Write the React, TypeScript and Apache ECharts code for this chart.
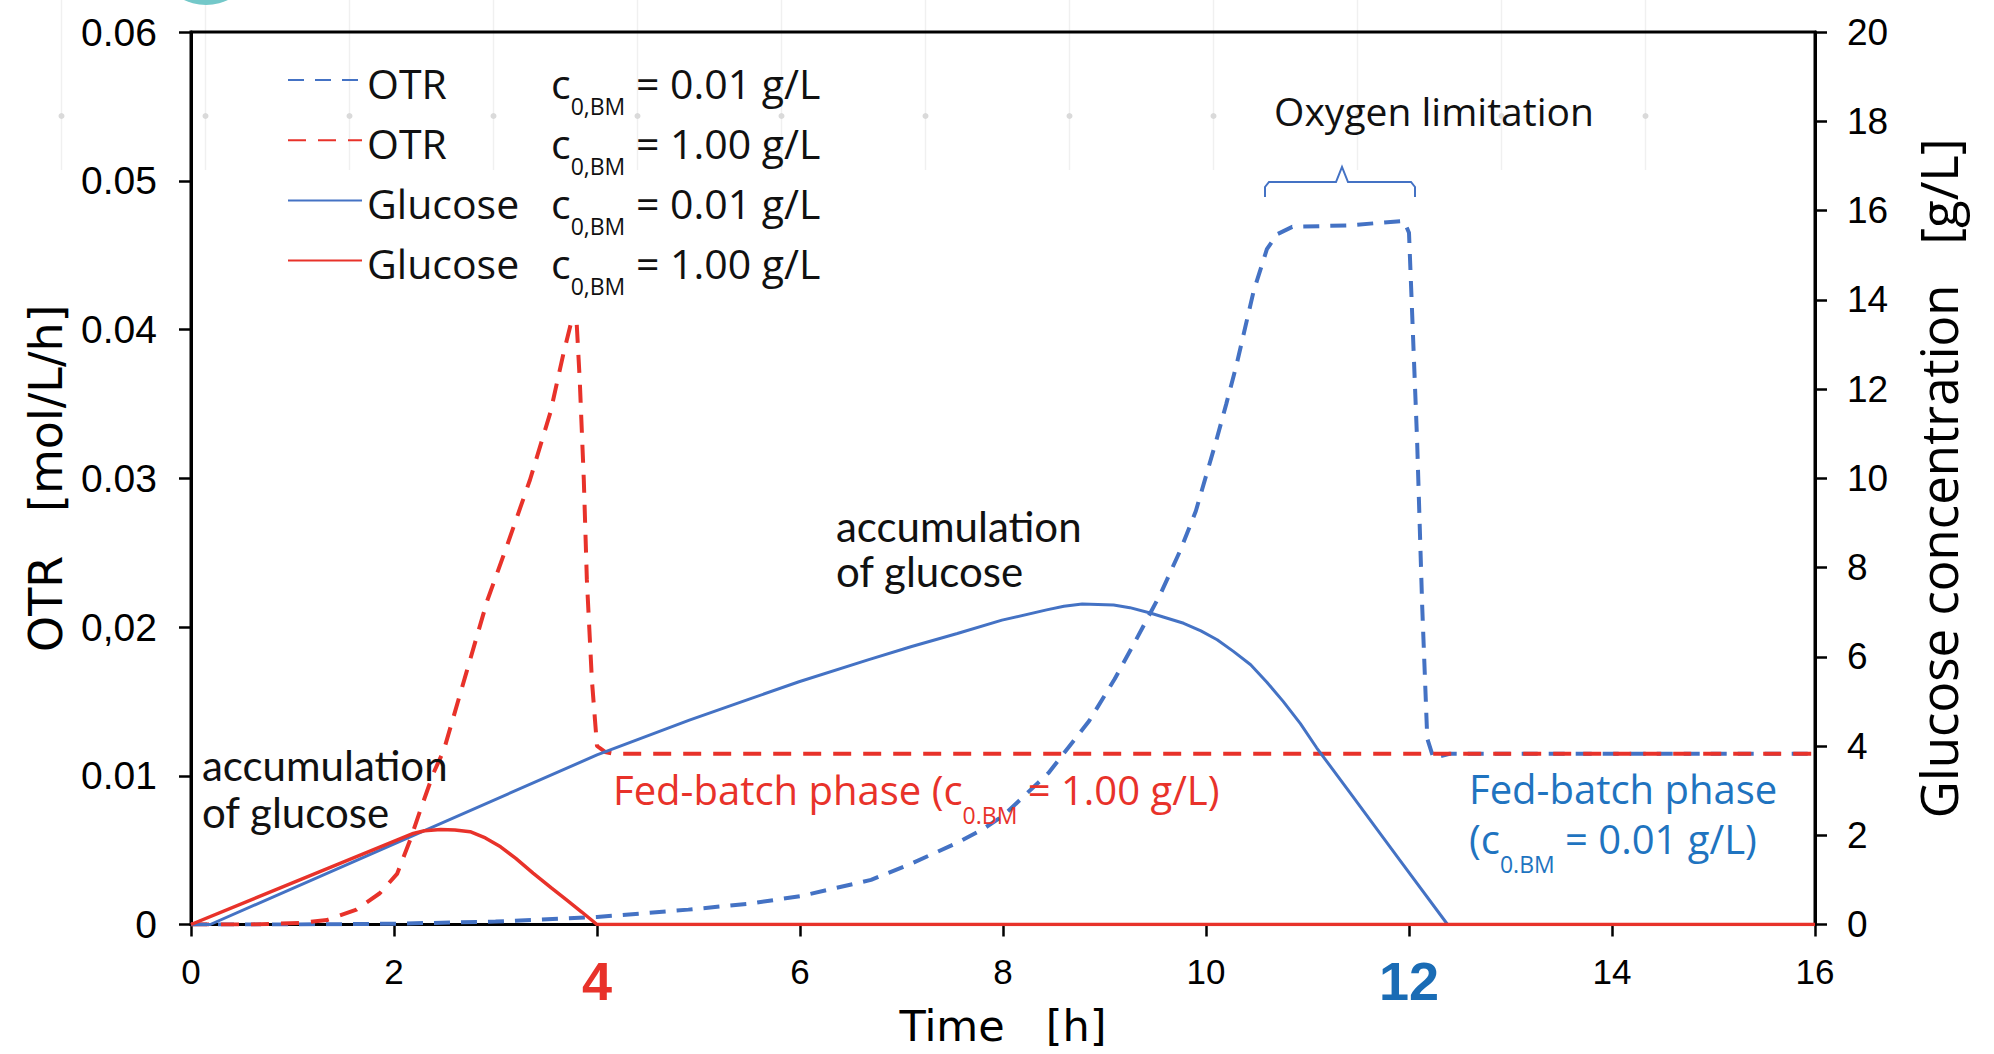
import React, { useEffect, useRef } from "react";
import * as echarts from "echarts";

// ---------------- data ----------------
const otrTickLabels = ["0", "0.01", "0,02", "0.03", "0.04", "0.05", "0.06"];

// OTR, c0,BM = 0.01 g/L (blue dashed) [mol/L/h]
const otrLowTime = [0, 1, 2, 3, 4, 4.9, 5.5, 6, 6.7, 7.1, 7.55, 7.8, 8, 8.45, 8.85, 9.1, 9.3, 9.55, 9.75, 9.9, 10.1, 10.2, 10.3, 10.47, 10.6, 10.7, 10.85, 11.4, 11.95, 12.0, 12.08, 12.13, 12.18, 12.24, 12.4, 16];
const otrLowValue = [0, 0, 0.00005, 0.0002, 0.0005, 0.001, 0.0014, 0.0019, 0.003, 0.0041, 0.0055, 0.0064, 0.0073, 0.0102, 0.0137, 0.0165, 0.019, 0.0222, 0.0252, 0.0278, 0.0325, 0.035, 0.0376, 0.0426, 0.0454, 0.0464, 0.0469, 0.047, 0.0473, 0.0465, 0.0325, 0.0214, 0.0125, 0.0112, 0.01148, 0.01148];

// OTR, c0,BM = 1.00 g/L (red dashed)
const otrHighTime = [0, 0.6, 1.08, 1.34, 1.63, 1.86, 2.03, 2.16, 2.26, 2.39, 2.49, 2.72, 2.92, 3.11, 3.34, 3.54, 3.67, 3.75, 3.8, 3.83, 3.87, 3.9, 3.95, 4.0, 4.08, 4.16, 16];
const otrHighValue = [0, 0, 0.0001, 0.0003, 0.001, 0.0021, 0.0034, 0.0057, 0.0077, 0.0102, 0.0117, 0.0171, 0.0218, 0.0254, 0.0299, 0.0344, 0.0384, 0.0406, 0.0404, 0.0366, 0.0299, 0.0232, 0.0164, 0.012, 0.0116, 0.01148, 0.01148];

// Glucose, c0,BM = 0.01 g/L (blue solid) [g/L]
const glcLowTime = [0, 0.19, 4.0, 4.91, 5.5, 5.99, 6.67, 7.1, 7.55, 7.99, 8.43, 8.6, 8.78, 9.09, 9.25, 9.45, 9.78, 9.95, 10.11, 10.27, 10.44, 10.6, 10.76, 10.93, 11.09, 11.42, 11.9, 12.38, 16];
const glcLowValue = [0, 0, 3.8, 4.58, 5.05, 5.44, 5.93, 6.23, 6.52, 6.82, 7.05, 7.13, 7.18, 7.16, 7.1, 6.98, 6.75, 6.58, 6.38, 6.12, 5.82, 5.43, 5.0, 4.5, 3.96, 2.95, 1.47, 0, 0];

// Glucose, c0,BM = 1.00 g/L (red solid)
const glcHighTime = [0, 2.19, 2.3, 2.46, 2.6, 2.75, 2.9, 3.05, 3.2, 3.37, 3.55, 3.7, 3.85, 4.0, 16];
const glcHighValue = [0, 2.04, 2.1, 2.13, 2.12, 2.08, 1.94, 1.74, 1.48, 1.15, 0.82, 0.55, 0.28, 0, 0];

const legendSubstance = ["OTR", "OTR", "Glucose", "Glucose"];
const legendConc = ["0.01", "1.00", "0.01", "1.00"];
const seriesNames = [
  "OTR c0,BM = 0.01 g/L",
  "OTR c0,BM = 1.00 g/L",
  "Glucose c0,BM = 0.01 g/L",
  "Glucose c0,BM = 1.00 g/L",
];

// ---------------- styles ----------------
const BLUE = "#4472c4";
const RED = "#e8322a";
const TEXT_BLUE = "#1f74c0";
const BOLD_BLUE = "#1a6cb5";
const SANS = "Liberation Sans, Arial, sans-serif";
const DEJAVU = "DejaVu Sans, sans-serif";
const OPEN = "Open Sans, sans-serif";
const LATO = "Lato, sans-serif";

const zip = (t: number[], v: number[]) => t.map((x, i) => [x, v[i]]);

export default function App() {
  const ref = useRef<HTMLDivElement>(null);

  useEffect(() => {
    if (!ref.current) return;
    const chart = echarts.init(ref.current, undefined, { renderer: "svg" });

    const mainTok = (extra: any = {}) => ({
      fontFamily: OPEN,
      fontSize: 41,
      lineHeight: 44,
      color: "#111",
      verticalAlign: "top",
      padding: [4, 0, 0, 0],
      ...extra,
    });

    const dots: any[] = [];
    for (let k = 0; k < 12; k++) {
      const x = 61.5 + 144 * k;
      dots.push({
        type: "line",
        silent: true,
        z: -10,
        shape: { x1: x, y1: 0, x2: x, y2: 170 },
        style: { stroke: "#f0f0f0", lineWidth: 1.5 },
      });
      dots.push({
        type: "circle",
        silent: true,
        z: -10,
        shape: { cx: x, cy: 116, r: 3 },
        style: { fill: "#dadada" },
      });
    }

    const fedRich = (color: string) => ({
      m: { fontFamily: OPEN, fontSize: 40, lineHeight: 50, fill: color, verticalAlign: "top" },
      s: { fontFamily: OPEN, fontSize: 23, lineHeight: 23, fill: color, verticalAlign: "top", padding: [34, 0, 0, 0] },
    });

    const lineCommon = { type: "line", symbol: "none", showSymbol: false, smooth: false };

    const option: any = {
      animation: false,
      backgroundColor: "#ffffff",
      textStyle: { fontFamily: SANS },
      grid: {
        left: 191,
        right: 179,
        top: 32,
        bottom: 129.5,
        show: true,
        borderColor: "#000",
        borderWidth: 3,
        containLabel: false,
        outerBoundsMode: "none",
      },
      legend: {
        orient: "vertical",
        left: 287,
        top: 58,
        padding: 0,
        itemWidth: 74,
        itemHeight: 20,
        itemGap: 1.2,
        selectedMode: false,
        data: seriesNames,
        itemStyle: { color: "rgba(0,0,0,0)", borderColor: "rgba(0,0,0,0)", borderWidth: 0, opacity: 0 },
        formatter: (name: string) => {
          const i = seriesNames.indexOf(name);
          return `{a|${legendSubstance[i]}}{m|c}{s|0,BM}{m| = ${legendConc[i]} g/L}`;
        },
        textStyle: {
          fontFamily: OPEN,
          fontSize: 41,
          color: "#111",
          rich: {
            a: mainTok({ width: 184 }),
            m: mainTok(),
            s: {
              fontFamily: OPEN,
              fontSize: 23,
              lineHeight: 23,
              color: "#111",
              verticalAlign: "top",
              padding: [36, 0, 0, 0],
            },
          },
        },
      },
      xAxis: {
        type: "value",
        min: 0,
        max: 16,
        interval: 2,
        name: "Time   [h]",
        nameLocation: "middle",
        nameGap: 80,
        nameMoveOverlap: false,
        nameTextStyle: { fontFamily: DEJAVU, fontSize: 43, color: "#000" },
        axisLine: { show: true, onZero: false, lineStyle: { color: "#000", width: 3 } },
        axisTick: { show: true, inside: false, length: 12, lineStyle: { color: "#000", width: 2.5 } },
        splitLine: { show: false },
        axisLabel: {
          margin: 29,
          fontFamily: SANS,
          fontSize: 35,
          color: "#000",
          formatter: (v: number) => (v === 4 ? "{r|4}" : v === 12 ? "{b|12}" : String(v)),
          rich: {
            r: { fontFamily: SANS, fontSize: 54, fontWeight: "bold", color: RED },
            b: { fontFamily: SANS, fontSize: 54, fontWeight: "bold", color: BOLD_BLUE },
          },
        },
      },
      yAxis: [
        {
          type: "value",
          position: "left",
          min: 0,
          max: 0.06,
          interval: 0.01,
          name: "OTR   [mol/L/h]",
          nameLocation: "middle",
          nameRotate: 90,
          nameGap: 122,
          nameTextStyle: { fontFamily: DEJAVU, fontSize: 46, color: "#000" },
          axisLine: { show: true, lineStyle: { color: "#000", width: 3 } },
          axisTick: { show: true, inside: false, length: 12, lineStyle: { color: "#000", width: 2.5 } },
          splitLine: { show: false },
          axisLabel: {
            margin: 34,
            fontFamily: SANS,
            fontSize: 39,
            color: "#000",
            formatter: (v: number) => otrTickLabels[Math.round(v / 0.01)] ?? "",
          },
        },
        {
          type: "value",
          position: "right",
          min: 0,
          max: 20,
          interval: 2,
          name: "Glucose concentration   [g/L]",
          nameLocation: "middle",
          nameRotate: 90,
          nameGap: 97,
          nameTextStyle: { fontFamily: OPEN, fontSize: 51, color: "#000" },
          axisLine: { show: true, lineStyle: { color: "#000", width: 3 } },
          axisTick: { show: true, inside: false, length: 12, lineStyle: { color: "#000", width: 2.5 } },
          splitLine: { show: false },
          axisLabel: { margin: 32, fontFamily: SANS, fontSize: 37, color: "#000" },
        },
      ],
      series: [
        {
          ...lineCommon,
          name: seriesNames[0],
          yAxisIndex: 0,
          data: zip(otrLowTime, otrLowValue),
          lineStyle: { color: BLUE, width: 4, type: [16, 11] },
          itemStyle: { color: BLUE },
          z: 3,
        },
        {
          ...lineCommon,
          name: seriesNames[1],
          yAxisIndex: 0,
          data: zip(otrHighTime, otrHighValue),
          lineStyle: { color: RED, width: 4, type: [18, 12] },
          itemStyle: { color: RED },
          z: 4,
        },
        {
          ...lineCommon,
          name: seriesNames[2],
          yAxisIndex: 1,
          data: zip(glcLowTime, glcLowValue),
          lineStyle: { color: BLUE, width: 3 },
          itemStyle: { color: BLUE },
          z: 5,
        },
        {
          ...lineCommon,
          name: seriesNames[3],
          yAxisIndex: 1,
          data: zip(glcHighTime, glcHighValue),
          lineStyle: { color: RED, width: 3.5 },
          itemStyle: { color: RED },
          z: 6,
        },
      ],
      graphic: [
        ...dots,
        {
          type: "circle",
          silent: true,
          shape: { cx: 206, cy: -46, r: 51 },
          style: { fill: "#73c8c9" },
        },
        {
          type: "text",
          silent: true,
          style: {
            text: "Oxygen limitation",
            x: 1434,
            y: 110,
            align: "center",
            verticalAlign: "middle",
            fontFamily: OPEN,
            fontSize: 39,
            fill: "#111",
          },
        },
        {
          type: "polyline",
          silent: true,
          shape: {
            points: [
              [1265, 197], [1265, 187], [1269, 182], [1336, 182], [1342, 167],
              [1348, 182], [1411, 182], [1415, 187], [1415, 197],
            ],
          },
          style: { stroke: BLUE, lineWidth: 2, fill: null },
        },
        {
          type: "text",
          silent: true,
          style: {
            text: "accumulation\nof glucose",
            x: 836,
            y: 503,
            align: "left",
            verticalAlign: "top",
            fontFamily: LATO,
            fontSize: 42,
            lineHeight: 45,
            fill: "#111",
          },
        },
        {
          type: "text",
          silent: true,
          z: 10,
          style: {
            text: "accumulation\nof glucose",
            x: 202,
            y: 741,
            align: "left",
            verticalAlign: "top",
            fontFamily: LATO,
            fontSize: 42,
            lineHeight: 47,
            fill: "#111",
          },
        },
        {
          type: "text",
          silent: true,
          z: 10,
          style: {
            text: "{m|Fed-batch phase (c}{s|0.BM}{m| = 1.00 g/L)}",
            x: 613,
            y: 769,
            align: "left",
            verticalAlign: "top",
            rich: fedRich(RED),
          },
        },
        {
          type: "text",
          silent: true,
          z: 10,
          style: {
            text: "{m|Fed-batch phase}\n{m|(c}{s|0.BM}{m| = 0.01 g/L)}",
            x: 1469,
            y: 768,
            align: "left",
            verticalAlign: "top",
            rich: fedRich(TEXT_BLUE),
          },
        },
      ],
    };

    chart.setOption(option);
    return () => chart.dispose();
  }, []);

  return (
    <div
      ref={ref}
      style={{ position: "absolute", left: 0, top: 0, width: 1994, height: 1054, background: "#fff" }}
    />
  );
}
